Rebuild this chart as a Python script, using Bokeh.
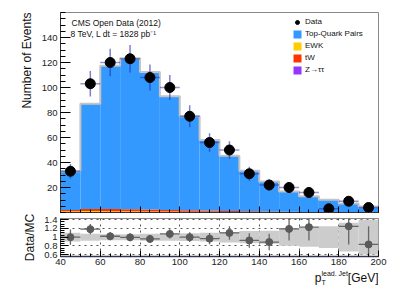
import math
from bokeh.plotting import figure
from bokeh.models import (FixedTicker, Label, Legend, LegendItem, Range1d,
                          CustomJSTickFormatter, Title)
from bokeh.layouts import column
from bokeh.embed import file_html
from bokeh.resources import INLINE

# ---------------- data ----------------
bin_edges = [40, 50, 60, 70, 80, 90, 100, 110, 120, 130, 140, 150, 160, 170, 180, 190, 200]
data_counts = [33, 103, 120, 123, 108, 100, 77, 56, 50, 31, 22, 20, 16, 3, 9, 4]
ttbar = [31.0, 84.2, 114.6, 120.8, 110.1, 90.9, 75.2, 56.4, 44.3, 32.5, 24.0, 16.2, 12.5, 9.7, 6.9, 4.5]
ewk = [0.8, 1.0, 1.0, 0.9, 0.8, 0.7, 0.6, 0.5, 0.4, 0.3, 0.3, 0.2, 0.2, 0.2, 0.1, 0.1]
tw = [1.0, 1.6, 1.8, 1.7, 1.5, 1.3, 1.1, 1.0, 0.7, 0.6, 0.4, 0.3, 0.25, 0.25, 0.15, 0.15]
ztt = [0.2, 0.2, 0.1, 0.1, 0.1, 0.1, 0.1, 0.1, 0.1, 0.1, 0.1, 0.1, 0.05, 0.05, 0.05, 0.05]
mc_rel_unc = [0.10, 0.08, 0.07, 0.07, 0.08, 0.08, 0.09, 0.10, 0.12, 0.14, 0.15, 0.20,
              0.22, 0.25, 0.33, 0.40]
x_ticks = [40, 60, 80, 100, 120, 140, 160, 180, 200]
y_ticks = [20, 40, 60, 80, 100, 120, 140]
ratio_ticks = [0.6, 0.8, 1.0, 1.2, 1.4]
ratio_labels = ["0.6", "0.8", "1", "1.2", "1.4"]
legend_labels = ["Data", "Top-Quark Pairs", "EWK", "tW", "Z\u2192\u03c4\u03c4"]
colors = {"ttbar": "#3399ff", "ewk": "#ffcc00", "tw": "#ff3300", "ztt": "#9933ff"}

FONT = "Liberation Sans"
TXT = "#111111"

left = bin_edges[:-1]
right = bin_edges[1:]
centers = [(a + b) / 2 for a, b in zip(left, right)]

# stacks (bottom to top): Z->tautau, EWK, tW, ttbar
b0 = [0.0] * len(left)
t_z = [b + v for b, v in zip(b0, ztt)]
t_ewk = [b + v for b, v in zip(t_z, ewk)]
t_tw = [b + v for b, v in zip(t_ewk, tw)]
t_tt = [b + v for b, v in zip(t_tw, ttbar)]
total = t_tt

data_err = [math.sqrt(d) for d in data_counts]
ratio = [d / m for d, m in zip(data_counts, total)]
ratio_err = [e / m for e, m in zip(data_err, total)]

# ---------------- main figure ----------------
p1 = figure(width=382, height=206, x_range=Range1d(40, 200), y_range=Range1d(0, 160),
            output_backend="svg", toolbar_location=None,
            min_border_left=52, min_border_right=12, min_border_top=4, min_border_bottom=2)
p1.grid.visible = False
p1.outline_line_color = "#888888"
p1.background_fill_color = "white"
p1.border_fill_color = "white"

r_z = p1.quad(left=left, right=right, bottom=b0, top=t_z, fill_color=colors["ztt"], line_color=None)
r_ewk = p1.quad(left=left, right=right, bottom=t_z, top=t_ewk, fill_color=colors["ewk"], line_color=None)
r_tw = p1.quad(left=left, right=right, bottom=t_ewk, top=t_tw, fill_color=colors["tw"], line_color=None)
r_tt = p1.quad(left=left, right=right, bottom=t_tw, top=t_tt, fill_color=colors["ttbar"], line_color=None)

p1.step(x=bin_edges, y=total + [total[-1]], mode="after", line_color="#c4c4c4", line_width=2)

p1.segment(x0=left, x1=right, y0=data_counts, y1=data_counts, line_color="#2a2ab0",
           line_alpha=0.5, line_width=1.5)
p1.segment(x0=centers, x1=centers, y0=[d - e for d, e in zip(data_counts, data_err)],
           y1=[d + e for d, e in zip(data_counts, data_err)], line_color="#2a2ab0",
           line_alpha=0.6, line_width=1.5)
r_data = p1.scatter(x=centers, y=data_counts, size=10, color="black")

p1.xaxis.ticker = FixedTicker(ticks=x_ticks, minor_ticks=list(range(40, 201, 5)))
p1.xaxis.formatter = CustomJSTickFormatter(code="return ''")
p1.xaxis.major_label_text_font_size = "1px"
p1.xaxis.major_label_standoff = 0
p1.xaxis.major_tick_in = 6
p1.xaxis.major_tick_out = 0
p1.xaxis.minor_tick_in = 3
p1.xaxis.minor_tick_out = 0
p1.xaxis.axis_line_color = "#333333"

p1.yaxis.ticker = FixedTicker(ticks=y_ticks, minor_ticks=list(range(0, 161, 5)))
p1.yaxis.major_tick_in = 10
p1.yaxis.major_tick_out = 0
p1.yaxis.minor_tick_in = 5
p1.yaxis.minor_tick_out = 0
p1.yaxis.major_label_text_font = FONT
p1.yaxis.major_label_text_font_size = "9.5px"
p1.yaxis.major_label_text_color = "#222222"
p1.yaxis.major_label_standoff = 3
p1.yaxis.axis_line_color = "#333333"

legend = Legend(items=[
    LegendItem(label=legend_labels[0], renderers=[r_data]),
    LegendItem(label=legend_labels[1], renderers=[r_tt]),
    LegendItem(label=legend_labels[2], renderers=[r_ewk]),
    LegendItem(label=legend_labels[3], renderers=[r_tw]),
    LegendItem(label=legend_labels[4], renderers=[r_z]),
], location=(232, 137), glyph_width=10, glyph_height=10, label_height=11, spacing=1,
    padding=0, margin=0, label_standoff=3, border_line_color=None,
    background_fill_alpha=0, label_text_font=FONT, label_text_font_size="8px",
    label_text_color=TXT)
p1.add_layout(legend)

p1.add_layout(Label(x=40, y=160, x_offset=11, y_offset=-10, text="CMS Open Data (2012)",
                    text_font=FONT, text_font_size="8.5px", text_baseline="middle",
                    text_color=TXT))
p1.add_layout(Label(x=40, y=160, x_offset=10, y_offset=-21,
                    text="8 TeV, L dt = 1828 pb\u207b\u00b9",
                    text_font=FONT, text_font_size="8.5px", text_baseline="middle",
                    text_color=TXT))
p1.add_layout(Title(text="Number of Events", align="right", text_font=FONT,
                    text_font_size="12px", text_font_style="normal", text_color=TXT), "left")

# ---------------- ratio figure ----------------
p2 = figure(width=382, height=55, x_range=p1.x_range, y_range=Range1d(0.555, 1.43),
            output_backend="svg", toolbar_location=None,
            min_border_left=52, min_border_right=12, min_border_top=4, min_border_bottom=13)
p2.outline_line_color = "#888888"
p2.background_fill_color = "white"
p2.border_fill_color = "white"

p2.xgrid.ticker = FixedTicker(ticks=x_ticks)
p2.ygrid.ticker = FixedTicker(ticks=ratio_ticks)
p2.grid.grid_line_dash = "dotted"
p2.grid.grid_line_color = "#555555"
p2.grid.grid_line_width = 1

p2.quad(left=left, right=right, bottom=[1 - u for u in mc_rel_unc],
        top=[1 + u for u in mc_rel_unc], fill_color="#cccccc", line_color=None)
p2.segment(x0=left, x1=right, y0=ratio, y1=ratio, line_color="#666666", line_width=1.3)
p2.segment(x0=centers, x1=centers, y0=[r - e for r, e in zip(ratio, ratio_err)],
           y1=[r + e for r, e in zip(ratio, ratio_err)], line_color="#666666", line_width=1.3)
p2.scatter(x=centers, y=ratio, size=7, color="#5a5a5a")

p2.xaxis.ticker = FixedTicker(ticks=x_ticks, minor_ticks=list(range(40, 201, 5)))
p2.xaxis.major_tick_in = 6
p2.xaxis.major_tick_out = 0
p2.xaxis.minor_tick_in = 3
p2.xaxis.minor_tick_out = 0
p2.xaxis.major_label_text_font = FONT
p2.xaxis.major_label_text_font_size = "9.5px"
p2.xaxis.major_label_text_color = "#222222"
p2.xaxis.major_label_standoff = 2
p2.xaxis.axis_line_color = "#333355"
p2.xaxis.axis_line_width = 1.5

p2.yaxis.ticker = FixedTicker(ticks=ratio_ticks,
                              minor_ticks=[0.6 + 0.05 * i for i in range(17)])
p2.yaxis.major_label_overrides = {t: s for t, s in zip(ratio_ticks, ratio_labels)}
p2.yaxis.major_tick_in = 8
p2.yaxis.major_tick_out = 0
p2.yaxis.minor_tick_in = 4
p2.yaxis.minor_tick_out = 0
p2.yaxis.major_label_text_font = FONT
p2.yaxis.major_label_text_font_size = "9.5px"
p2.yaxis.major_label_text_color = "#222222"
p2.yaxis.major_label_standoff = 3
p2.yaxis.axis_line_color = "#333333"
p2.add_layout(Title(text="Data/MC", align="center", text_font=FONT,
                    text_font_size="12px", text_font_style="normal", text_color=TXT), "left")

# ---------------- x-axis title strip ----------------
p3 = figure(width=382, height=18, x_range=p1.x_range, y_range=Range1d(0, 18),
            output_backend="svg", toolbar_location=None, x_axis_type=None, y_axis_type=None,
            min_border_left=52, min_border_right=12, min_border_top=0, min_border_bottom=0)
p3.grid.visible = False
p3.outline_line_color = None
p3.background_fill_color = "white"
p3.border_fill_color = "white"
xmax = x_ticks[-1]
p3.add_layout(Label(x=xmax, y=10, text="[GeV]", text_font=FONT, text_font_size="12px",
                    text_align="right", text_baseline="middle", text_color=TXT))
p3.add_layout(Label(x=xmax, y=10, x_offset=-57, text="p", text_font=FONT,
                    text_font_size="12px", text_align="right", text_baseline="middle",
                    text_color=TXT))
p3.add_layout(Label(x=xmax, y=5, x_offset=-57, text="T", text_font=FONT,
                    text_font_size="7px", text_align="left", text_baseline="middle",
                    text_color=TXT))
p3.add_layout(Label(x=xmax, y=14, x_offset=-57, text="lead. Jet", text_font=FONT,
                    text_font_size="7px", text_align="left", text_baseline="middle",
                    text_color=TXT))

layout = column(p1, p2, p3, spacing=0)
html = file_html(layout, INLINE)
html = html.replace("</head>",
                    "<style>html,body{overflow:hidden;}body{margin:8px !important;}</style></head>", 1)
open("out.html", "w").write(html)
